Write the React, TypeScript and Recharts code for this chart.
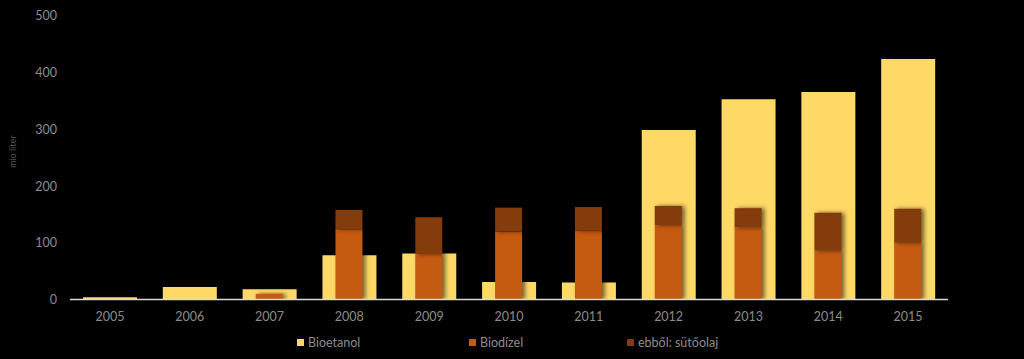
import React from 'react';
import { BarChart, Bar, XAxis, YAxis, Legend } from 'recharts';

const years = ['2005', '2006', '2007', '2008', '2009', '2010', '2011', '2012', '2013', '2014', '2015'];
const bioetanol = [4, 22, 18, 78, 81, 31, 30, 299, 353, 366, 424];
const biodizel = [0, 0, 10, 124, 80, 120, 121, 131, 127, 86, 100];
const sutoolaj = [0, 0, 0, 34, 65, 42, 42, 34, 34, 67, 60];
const yTicks = [0, 100, 200, 300, 400, 500];
const seriesOrder = ['Bioetanol', 'Biodízel', 'ebből: sütőolaj'];

const data = years.map((y, i) => ({
  year: y,
  Bioetanol: bioetanol[i],
  'Biodízel': biodizel[i],
  'ebből: sütőolaj': sutoolaj[i],
}));

const FONT = 'Lato, "Open Sans", sans-serif';
const GRAY = '#8c8c8c';

const ShadowRect = (props: any) => {
  const { x, y, width, height, fill } = props;
  if (!height || height <= 0) return <g />;
  return (
    <rect
      x={x}
      y={y}
      width={width}
      height={height}
      fill={fill}
      style={{ filter: 'drop-shadow(3px 0px 2px rgba(0,0,0,0.55))' }}
    />
  );
};

const LegendContent = (props: any) => {
  const payload = [...(props.payload || [])].sort(
    (a: any, b: any) => seriesOrder.indexOf(a.value) - seriesOrder.indexOf(b.value)
  );
  const itemWidths = [172, 158, 100];
  return (
    <div style={{ display: 'flex', alignItems: 'center', height: 16, fontFamily: FONT, fontSize: 12.5, color: GRAY }}>
      {payload.map((p: any, i: number) => (
        <div key={i} style={{ display: 'flex', alignItems: 'center', width: itemWidths[i], whiteSpace: 'nowrap' }}>
          <span style={{ display: 'inline-block', width: 7, height: 7, background: p.color, marginRight: 4 }} />
          <span>{p.value}</span>
        </div>
      ))}
    </div>
  );
};

const YLabel = (props: any) => {
  const vb = props.viewBox || {};
  const cx = 12;
  const cy = (vb.y || 0) + (vb.height || 0) / 2 - 6;
  return (
    <text
      x={cx}
      y={cy}
      transform={`rotate(-90 ${cx} ${cy})`}
      textAnchor="middle"
      dominantBaseline="central"
      fill="#555555"
      fontSize={9}
      fontFamily={FONT}
    >
      mio liter
    </text>
  );
};

export default function App() {
  return (
    <div style={{ position: 'absolute', left: 0, top: 0, width: 1024, height: 359, background: '#000' }}>
      <BarChart
        width={1024}
        height={359}
        data={data}
        margin={{ top: 16, right: 0, bottom: 13.5, left: 0 }}
      >
        <XAxis
          xAxisId="x"
          dataKey="year"
          axisLine={{ stroke: '#d9d9d9', strokeWidth: 1.5 }}
          tickLine={false}
          tickMargin={7}
          height={30}
          tick={{ fill: GRAY, fontSize: 12.5, fontFamily: FONT }}
        />
        <XAxis xAxisId="x2" dataKey="year" hide />
        <YAxis
          yAxisId="left"
          orientation="left"
          width={70}
          domain={[0, 500]}
          ticks={yTicks}
          axisLine={false}
          tickLine={false}
          tickMargin={7}
          tick={{ fill: GRAY, fontSize: 12.5, fontFamily: FONT }}
          label={<YLabel />}
        />
        <YAxis
          yAxisId="right"
          orientation="right"
          width={76}
          domain={[0, 500]}
          ticks={yTicks}
          axisLine={false}
          tickLine={false}
          tickMargin={24}
          tick={{ fill: GRAY, fontSize: 12.5, fontFamily: FONT, textAnchor: 'start' }}
        />
        <Legend
          content={<LegendContent />}
          wrapperStyle={{ left: 297, top: 334, bottom: 'auto', width: 'auto' }}
        />
        <Bar
          xAxisId="x"
          yAxisId="left"
          dataKey="Bioetanol"
          fill="#FFD966"
          barSize={54}
          isAnimationActive={false}
        />
        <Bar
          xAxisId="x2"
          yAxisId="left"
          dataKey="Biodízel"
          stackId="d"
          fill="#C55A11"
          barSize={27}
          shape={<ShadowRect />}
          isAnimationActive={false}
        />
        <Bar
          xAxisId="x2"
          yAxisId="left"
          dataKey="ebből: sütőolaj"
          stackId="d"
          fill="#843C0C"
          barSize={27}
          shape={<ShadowRect />}
          isAnimationActive={false}
        />
      </BarChart>
    </div>
  );
}
